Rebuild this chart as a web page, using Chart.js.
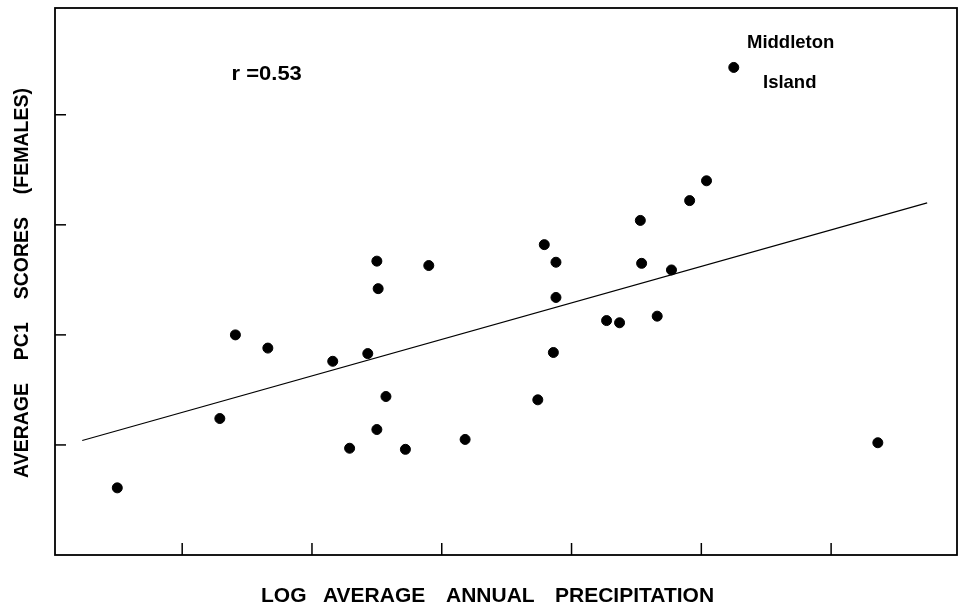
<!DOCTYPE html>
<html>
<head>
<meta charset="utf-8">
<script src="https://cdn.jsdelivr.net/npm/chart.js@4"></script>
<style>
  html, body { margin: 0; padding: 0; background: #fff; }
  #wrap { width: 963px; height: 611px; position: relative; }
</style>
</head>
<body>
<div id="wrap"><canvas id="grafico" width="963" height="611"></canvas></div>
<script>
// ================= DADOS =================
const precipX = [0.50, 1.29, 1.41, 1.66, 2.16, 2.29, 2.43, 2.50, 2.51, 2.50, 2.57, 2.72, 2.90, 3.18,
  3.74, 3.79, 3.88, 3.88, 3.86, 4.27, 4.37, 4.53, 4.54, 4.66, 4.77, 4.91, 5.04, 5.25, 6.36];
const pc1Y = [0.61, 1.24, 2.00, 1.88, 1.76, 0.97, 1.83, 2.67, 2.42, 1.14, 1.44, 0.96, 2.63, 1.05,
  1.41, 2.82, 2.66, 2.34, 1.84, 2.13, 2.11, 3.04, 2.65, 2.17, 2.59, 3.22, 3.40, 4.43, 1.02];
const lineX = [0.23, 6.74];
const lineY = [1.04, 3.20];
const xTicks = [1, 2, 3, 4, 5, 6];
const yTicks = [1, 2, 3, 4];
const xTitle = "LOG AVERAGE ANNUAL PRECIPITATION";
const yTitle = "AVERAGE PC1 SCORES (FEMALES)";
const rLabel = "r =0.53";
const islandLabel = ["Middleton", "Island"];

const FONT = '"Liberation Sans", Arial, sans-serif';

// texto justificado entre dois pontos (palavra por palavra)
function justified(ctx, text, len) {
  const words = text.split(" ");
  const widths = words.map(w => ctx.measureText(w).width);
  const total = widths.reduce((a, b) => a + b, 0);
  const gap = (len - total) / (words.length - 1);
  let pos = 0;
  words.forEach((w, i) => {
    ctx.fillText(w, pos, 0);
    pos += widths[i] + gap;
  });
}

const moldura = {
  id: "moldura",
  afterDraw(chart) {
    const c = chart.ctx;
    const a = chart.chartArea;
    const sx = chart.scales.x, sy = chart.scales.y;
    c.save();
    c.strokeStyle = "#000";
    c.lineWidth = 1.8;
    c.strokeRect(a.left, a.top, a.right - a.left, a.bottom - a.top);

    // ticks para dentro
    c.lineWidth = 1.5;
    xTicks.forEach(v => {
      const px = sx.getPixelForValue(v);
      c.beginPath(); c.moveTo(px, a.bottom); c.lineTo(px, a.bottom - 12); c.stroke();
    });
    yTicks.forEach(v => {
      const py = sy.getPixelForValue(v);
      c.beginPath(); c.moveTo(a.left, py); c.lineTo(a.left + 11, py); c.stroke();
    });

    c.fillStyle = "#000";
    c.textBaseline = "alphabetic";

    // titulo eixo x (inicio de cada palavra)
    c.font = "bold 20px " + FONT;
    const inicios = [261, 323, 446, 555];
    xTitle.split(" ").forEach((w, i) => {
      c.save();
      c.translate(inicios[i], 602);
      c.scale(1.05, 1);
      c.fillText(w, 0, 0);
      c.restore();
    });

    // titulo eixo y
    c.font = "bold 19.5px " + FONT;
    c.save();
    c.translate(28, 478);
    c.rotate(-Math.PI / 2);
    justified(c, yTitle, 390);
    c.restore();

    // anotacoes
    c.font = "bold 20px " + FONT;
    c.save();
    c.translate(sx.getPixelForValue(1.38), sy.getPixelForValue(4.32));
    c.scale(1.1, 1);
    c.fillText(rLabel, 0, 0);
    c.restore();
    c.font = "bold 18.5px " + FONT;
    c.fillText(islandLabel[0], 747, 48);
    c.fillText(islandLabel[1], 763, 88);
    c.restore();
  }
};

let ctx = document.getElementById("grafico");

let chart = new Chart(ctx, {
  type: "scatter",
  data: {
    datasets: [
      {
        label: "PC1",
        data: precipX.map((x, i) => ({ x: x, y: pc1Y[i] })),
        backgroundColor: "#000",
        borderColor: "#000",
        pointRadius: 5,
        pointHoverRadius: 5,
        clip: false
      },
      {
        type: "line",
        label: "regressao",
        data: lineX.map((x, i) => ({ x: x, y: lineY[i] })),
        borderColor: "#000",
        borderWidth: 1.2,
        pointRadius: 0,
        fill: false,
        clip: false
      }
    ]
  },
  options: {
    responsive: false,
    animation: false,
    events: [],
    layout: { padding: { top: 8, right: 6, left: 0, bottom: 0 }, autoPadding: false },
    plugins: { legend: { display: false }, tooltip: { enabled: false } },
    scales: {
      x: {
        type: "linear",
        min: 0.02,
        max: 6.97,
        ticks: { display: false },
        grid: { display: false },
        border: { display: false },
        afterFit: s => { s.height = 56; }
      },
      y: {
        type: "linear",
        min: 0,
        max: 4.97,
        ticks: { display: false },
        grid: { display: false },
        border: { display: false },
        afterFit: s => { s.width = 55; }
      }
    }
  },
  plugins: [moldura]
});
</script>
</body>
</html>
